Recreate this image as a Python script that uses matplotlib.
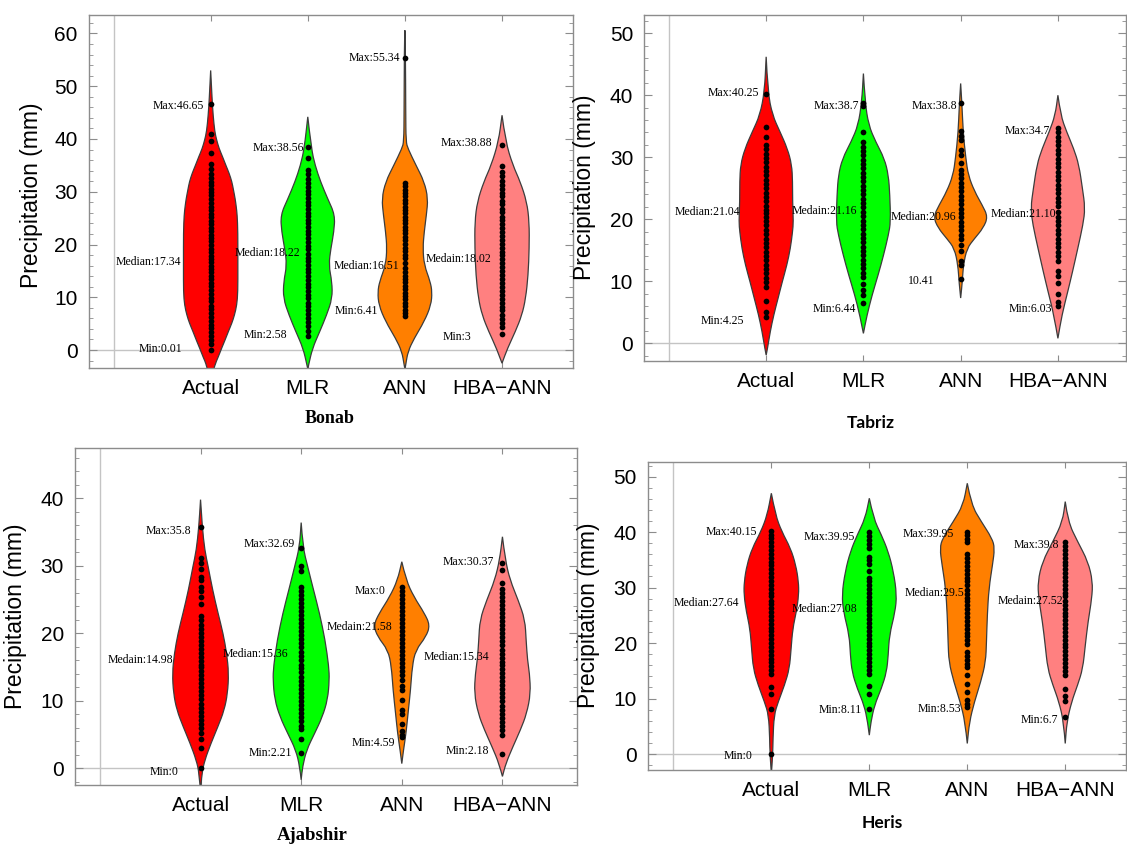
import matplotlib.pyplot as plt
from matplotlib.ticker import MultipleLocator
from matplotlib.path import Path
from matplotlib.patches import PathPatch

plt.rcParams["font.family"] = ["Liberation Sans", "DejaVu Sans"]

categories = ["Actual", "MLR", "ANN", "HBA\u2212ANN"]
colors = ["#ff0000", "#00ff00", "#ff7f00", "#ff8080"]

# ---------------- Bonab ----------------
bonab_dots = [
    [46.65, 41.0, 39.6, 37.4, 35.2, 34.4, 33.4, 32.6, 31.9, 31.2, 30.6, 30.0, 29.3, 28.6, 27.9, 27.1,
     26.5, 25.8, 25.2, 24.5, 23.9, 23.1, 22.5, 21.8, 21.2, 20.6, 19.9, 19.2, 18.6, 17.9, 17.34, 16.7,
     16.0, 15.4, 14.7, 14.0, 13.4, 12.7, 12.1, 11.3, 10.6, 9.9, 9.2, 8.4, 7.7, 7.0, 6.3, 5.5, 4.8,
     4.1, 3.4, 2.6, 1.9, 1.1, 0.01],
    [38.56, 36.4, 34.1, 33.3, 32.5, 31.7, 30.9, 30.2, 29.5, 28.8, 28.1, 27.4, 26.7, 26.0, 25.4, 24.7,
     24.0, 23.3, 22.6, 21.9, 21.2, 20.5, 19.8, 19.1, 18.22, 17.5, 16.8, 16.1, 15.4, 14.7, 14.0, 13.3,
     12.6, 11.9, 11.2, 10.5, 9.8, 9.0, 8.3, 7.6, 6.9, 6.1, 5.3, 4.5, 3.6, 2.58],
    [55.34, 31.6, 31.0, 30.4, 29.7, 29.1, 28.5, 27.8, 27.2, 26.6, 25.9, 25.3, 24.6, 24.0, 23.4, 22.7,
     22.1, 21.4, 20.8, 20.1, 19.4, 18.8, 18.1, 17.4, 16.51, 15.6, 14.8, 14.1, 13.5, 12.8, 12.2, 11.5,
     10.9, 10.2, 9.6, 8.9, 8.3, 7.6, 7.0, 6.41],
    [38.88, 34.8, 33.8, 32.9, 32.1, 31.3, 30.6, 29.8, 29.1, 28.3, 27.6, 26.8, 26.1, 25.3, 24.6, 23.8,
     23.1, 22.3, 21.6, 20.8, 20.1, 19.3, 18.6, 18.02, 17.2, 16.5, 15.7, 15.0, 14.2, 13.5, 12.7, 12.0,
     11.2, 10.5, 9.7, 9.0, 8.2, 7.5, 6.7, 5.9, 5.1, 4.3, 3.0],
]
bonab_prof_y = [
    [-6, -2.85, -1.3, 0.3, 1.9, 3.5, 5.1, 6.6, 8.5, 11.0, 16, 22.4, 25.6, 27.2, 28.7, 30.3, 31.9,
     33.5, 35.0, 36.6, 38.2, 39.8, 41.4, 44.5, 47.7, 53.0],
    [-3.6, -2.85, 0.3, 3.5, 6.6, 9.8, 12.9, 16.1, 19.3, 22.4, 25.6, 28.7, 31.9, 35.0, 38.2, 44.2],
    [-3.6, -2.8, -0.3, 2.2, 5.4, 8.5, 11.0, 13.0, 16.1, 19.3, 22.4, 25.6, 28.7, 31.9, 35.0, 38.2,
     39.5, 45.0, 57.2, 60.6],
    [-2.5, 0.3, 3.5, 6.6, 9.8, 14.2, 19.3, 24.3, 28.1, 31.9, 35.0, 39.5, 44.5],
]
bonab_prof_w = [
    [0, 0.15, 0.28, 0.4, 0.53, 0.65, 0.78, 0.875, 0.96, 1.0, 1.0, 1.0, 0.975, 0.94, 0.9, 0.84, 0.78,
     0.68, 0.56, 0.44, 0.31, 0.22, 0.15, 0.09, 0.05, 0],
    [0, 0.03, 0.17, 0.44, 0.69, 0.9, 0.89, 0.77, 0.85, 0.96, 1.0, 0.73, 0.47, 0.27, 0.13, 0],
    [0, 0.03, 0.11, 0.34, 0.71, 0.96, 1.0, 0.93, 0.71, 0.66, 0.71, 0.79, 0.85, 0.71, 0.41, 0.11,
     0.04, 0.03, 0.02, 0],
    [0, 0.2, 0.49, 0.73, 0.87, 0.96, 1.0, 1.0, 0.91, 0.67, 0.4, 0.13, 0],
]
bonab_labels = ["Max:46.65", "Median:17.34", "Min:0.01",
                "Max:38.56", "Median:18.22", "Min:2.58",
                "Max:55.34", "Median:16.51", "Min:6.41",
                "Max:38.88", "Medain:18.02", "Min:3"]
bonab_label_pos = [(0.93, 46.2), (0.70, 16.6), (0.71, 0.2),
                   (1.96, 38.3), (1.92, 18.3), (1.79, 2.8),
                   (2.95, 55.4), (2.94, 16.0), (2.72, 7.4),
                   (3.90, 39.3), (3.89, 17.2), (3.68, 2.5)]

# ---------------- Tabriz ----------------
tabriz_dots = [
    [40.25, 34.8, 33.3, 32.0, 31.3, 30.6, 29.9, 29.2, 28.5, 27.8, 27.1, 26.4, 25.7, 25.0, 24.3, 23.6,
     22.9, 22.2, 21.5, 21.04, 20.4, 19.7, 19.0, 18.3, 17.6, 16.9, 16.2, 15.5, 14.8, 14.1, 13.4, 12.7,
     12.0, 11.3, 10.6, 9.9, 9.1, 6.8, 5.0, 4.25],
    [38.7, 38.2, 34.0, 32.4, 31.7, 31.0, 30.3, 29.6, 28.9, 28.2, 27.5, 26.8, 26.1, 25.4, 24.7, 24.0,
     23.3, 22.6, 21.9, 21.16, 20.5, 19.8, 19.1, 18.4, 17.7, 17.0, 16.3, 15.6, 14.9, 14.2, 13.5, 12.8,
     12.1, 11.4, 10.7, 9.6, 8.6, 7.8, 6.44],
    [38.8, 34.2, 33.5, 32.8, 31.2, 30.4, 29.0, 28.0, 27.3, 26.6, 25.9, 25.2, 24.5, 23.8, 23.1, 22.4,
     21.7, 20.96, 20.3, 19.6, 18.9, 18.2, 17.5, 16.8, 15.9, 14.9, 13.2, 12.6, 10.41],
    [34.7, 34.0, 33.3, 32.6, 31.9, 31.2, 30.5, 29.8, 29.1, 28.4, 27.7, 27.0, 26.3, 25.6, 24.9, 24.2,
     23.5, 22.8, 22.1, 21.10, 20.4, 19.7, 19.0, 18.3, 17.6, 16.9, 16.2, 15.5, 14.8, 14.1, 13.3, 11.6,
     10.8, 9.7, 7.9, 6.6, 6.03],
]
tabriz_prof_y = [
    [-1.9, -0.8, 1.9, 4.6, 7.3, 9.9, 12.6, 15.3, 18.0, 19.6, 22.9, 26.1, 28.8, 31.4, 34.1, 36.8, 40.6, 46.2],
    [1.6, 4.5, 7.8, 11.0, 14.2, 17.5, 19.6, 23.9, 27.1, 29.8, 32.5, 35.2, 39.0, 43.5],
    [7.3, 9.9, 12.6, 15.3, 16.9, 18.6, 20.4, 22.3, 24.5, 27.1, 29.8, 34.1, 38.4, 41.9],
    [0.8, 4.6, 8.3, 11.6, 15.3, 19.1, 21.8, 25.0, 28.8, 31.4, 34.1, 36.8, 40.0],
]
tabriz_prof_w = [
    [0, 0.05, 0.15, 0.28, 0.44, 0.59, 0.76, 0.89, 0.97, 1.0, 0.97, 0.97, 0.94, 0.78, 0.51, 0.23, 0.06, 0],
    [0, 0.13, 0.32, 0.54, 0.74, 0.92, 1.0, 0.97, 0.92, 0.77, 0.45, 0.19, 0.06, 0],
    [0, 0.06, 0.1, 0.23, 0.51, 0.83, 1.0, 0.79, 0.51, 0.28, 0.19, 0.09, 0.05, 0],
    [0, 0.15, 0.36, 0.54, 0.73, 0.92, 1.0, 0.9, 0.77, 0.58, 0.32, 0.1, 0],
]
tabriz_labels = ["Max:40.25", "Median:21.04", "Min:4.25",
                 "Max:38.7", "Medain:21.16", "Min:6.44",
                 "Max:38.8", "Median:20.96", "10.41",
                 "Max:34.7", "Median:21.10", "Min:6.03"]
tabriz_label_pos = [(0.93, 40.4), (0.73, 21.1), (0.77, 3.65),
                    (1.96, 38.2), (1.94, 21.4), (1.92, 5.5),
                    (2.96, 38.3), (2.95, 20.3), (2.73, 10.1),
                    (3.92, 34.2), (3.98, 20.8), (3.94, 5.5)]

# ---------------- Ajabshir ----------------
ajabshir_dots = [
    [35.8, 31.1, 30.4, 29.6, 28.4, 27.9, 26.9, 26.2, 25.4, 24.4, 22.5, 21.9, 21.3, 20.7, 20.1, 19.5,
     18.9, 18.3, 17.7, 17.1, 16.5, 15.9, 15.3, 14.98, 14.4, 13.8, 13.2, 12.6, 12.0, 11.4, 10.8, 10.2,
     9.6, 9.0, 8.4, 7.8, 7.2, 6.6, 5.9, 5.2, 4.4, 3.0, 0.0],
    [32.69, 29.9, 29.2, 26.9, 26.3, 25.7, 25.1, 24.5, 23.9, 23.3, 22.7, 22.1, 21.5, 20.9, 20.3, 19.7,
     19.1, 18.5, 17.9, 17.3, 16.7, 16.1, 15.36, 14.8, 14.2, 13.6, 13.0, 12.4, 11.8, 11.2, 10.6, 10.0,
     9.4, 8.8, 8.2, 7.6, 7.0, 6.2, 5.8, 4.4, 2.21],
    [26.9, 26.3, 25.7, 25.1, 24.5, 23.9, 23.3, 22.7, 22.1, 21.58, 21.0, 20.4, 19.8, 19.2, 18.6, 18.0,
     17.4, 16.8, 16.2, 15.6, 15.0, 14.4, 13.8, 13.1, 12.2, 11.6, 10.1, 8.6, 8.0, 6.6, 5.6, 5.0, 4.59],
    [30.37, 29.4, 27.4, 26.6, 26.0, 25.4, 24.8, 24.2, 23.6, 23.0, 22.4, 21.8, 21.2, 20.6, 20.0, 19.4,
     18.8, 18.2, 17.6, 17.0, 16.4, 15.8, 15.34, 14.7, 14.1, 13.5, 12.9, 12.3, 11.7, 11.1, 10.5, 9.9,
     9.3, 8.7, 8.1, 7.5, 6.9, 6.3, 5.7, 5.0, 2.18],
]
ajabshir_prof_y = [
    [-3.5, -0.7, 1.2, 3.7, 6.2, 8.6, 11.1, 14.1, 17.0, 20.0, 23.0, 26.4, 29.9, 32.3, 35.8, 39.8],
    [-1.7, 0.25, 2.7, 5.2, 7.6, 10.2, 13.1, 15.1, 19.0, 23.0, 26.4, 29.9, 32.8, 36.4],
    [0.7, 2.7, 5.2, 8.1, 11.6, 15.1, 17.5, 19.5, 21.2, 23.0, 25.4, 27.9, 30.6],
    [-1.2, 0.7, 3.2, 5.7, 8.1, 11.1, 14.1, 16.0, 19.0, 22.0, 24.9, 27.9, 30.9, 34.3],
]
ajabshir_prof_w = [
    [0, 0.05, 0.15, 0.37, 0.62, 0.84, 0.96, 1.0, 0.93, 0.8, 0.62, 0.43, 0.27, 0.15, 0.06, 0],
    [0, 0.05, 0.19, 0.48, 0.75, 0.94, 1.0, 0.98, 0.85, 0.65, 0.44, 0.23, 0.06, 0],
    [0, 0.06, 0.15, 0.22, 0.31, 0.37, 0.49, 0.86, 1.0, 0.8, 0.43, 0.15, 0],
    [0, 0.12, 0.37, 0.64, 0.86, 1.0, 0.96, 0.89, 0.84, 0.8, 0.56, 0.27, 0.1, 0],
]
ajabshir_labels = ["Max:35.8", "Medain:14.98", "Min:0",
                   "Max:32.69", "Median:15.36", "Min:2.21",
                   "Max:0", "Medain:21.58", "Min:4.59",
                   "Max:30.37", "Median:15.34", "Min:2.18"]
ajabshir_label_pos = [(0.91, 35.2), (0.73, 16.05), (0.78, -0.5),
                      (1.94, 33.3), (1.87, 17.0), (1.91, 2.2),
                      (2.84, 26.3), (2.91, 20.9), (2.93, 3.8),
                      (3.92, 30.5), (3.87, 16.5), (3.87, 2.6)]

# ---------------- Heris ----------------
heris_dots = [
    [40.15, 39.5, 38.9, 38.2, 37.5, 36.8, 36.1, 35.4, 34.7, 34.0, 33.3, 32.6, 31.9, 31.2, 30.5, 29.8,
     29.1, 28.4, 27.64, 27.0, 26.3, 25.6, 24.9, 24.2, 23.5, 22.8, 22.1, 21.4, 20.7, 20.0, 19.3, 18.6,
     17.9, 17.2, 16.5, 15.8, 15.1, 14.4, 12.1, 10.8, 8.2, 0.0],
    [39.95, 39.3, 38.6, 37.9, 37.2, 35.6, 34.9, 34.2, 33.0, 31.8, 31.1, 30.4, 29.7, 29.0, 28.3, 27.6,
     27.08, 26.4, 25.7, 25.0, 24.3, 23.6, 22.9, 22.2, 21.5, 20.8, 20.1, 19.4, 18.7, 18.0, 17.3, 16.6,
     15.9, 15.2, 14.5, 12.3, 10.9, 8.11],
    [39.95, 39.4, 38.8, 38.2, 36.0, 35.3, 34.6, 33.9, 33.2, 32.5, 31.8, 31.1, 30.4, 29.5, 28.9, 28.2,
     27.5, 26.8, 26.1, 25.4, 24.7, 24.0, 23.3, 22.6, 21.9, 21.2, 20.5, 19.8, 18.4, 17.7, 17.0, 16.3,
     15.6, 14.3, 12.6, 11.2, 9.8, 9.0, 8.53],
    [38.2, 37.5, 36.8, 36.1, 35.4, 34.7, 34.0, 33.3, 32.6, 31.9, 31.2, 30.5, 29.8, 29.1, 28.4, 27.52,
     26.9, 26.2, 25.5, 24.8, 24.1, 23.4, 22.7, 22.0, 21.3, 20.6, 19.9, 19.2, 18.5, 17.8, 17.1, 16.4,
     15.7, 15.0, 14.3, 11.7, 10.5, 9.5, 6.7],
]
heris_prof_y = [
    [-3.5, -0.2, 2.8, 7.0, 9.4, 12.4, 15.4, 19.0, 22.6, 25.6, 28.7, 31.1, 34.1, 37.1, 40.1, 43.1, 47.0],
    [3.4, 5.8, 8.8, 11.8, 14.8, 17.8, 21.4, 25.6, 28.7, 32.9, 36.5, 39.5, 42.5, 46.1],
    [1.9, 5.8, 9.4, 13.0, 16.6, 20.2, 25.1, 29.9, 34.1, 37.1, 38.9, 41.9, 44.9, 48.8],
    [1.9, 5.8, 9.4, 12.4, 15.4, 19.6, 23.8, 28.1, 31.1, 34.7, 38.3, 41.9, 45.5],
]
heris_prof_w = [
    [0, 0.05, 0.06, 0.1, 0.25, 0.48, 0.66, 0.72, 0.78, 0.91, 1.0, 0.99, 0.89, 0.7, 0.38, 0.15, 0],
    [0, 0.06, 0.19, 0.44, 0.63, 0.69, 0.73, 0.94, 1.0, 0.88, 0.69, 0.44, 0.15, 0],
    [0, 0.08, 0.26, 0.49, 0.67, 0.7, 0.73, 0.79, 0.92, 1.0, 0.9, 0.51, 0.15, 0],
    [0, 0.06, 0.23, 0.45, 0.64, 0.73, 0.83, 0.97, 1.0, 0.83, 0.45, 0.1, 0],
]
heris_labels = ["Max:40.15", "Median:27.64", "Min:0",
                "Max:39.95", "Median:27.08", "Min:8.11",
                "Max:39.95", "Median:29.5", "Min:8.53",
                "Max:39.8", "Medain:27.52", "Min:6.7"]
heris_label_pos = [(0.855, 40.1), (0.67, 27.3), (0.81, -0.4),
                   (1.85, 39.2), (1.88, 26.2), (1.92, 8.0),
                   (2.86, 39.6), (2.97, 29.1), (2.94, 8.1),
                   (3.94, 37.7), (3.98, 27.6), (3.93, 6.2)]

fig = plt.figure(figsize=(11.27, 8.44), dpi=100)
frame_col = "#8c8c8c"
half_width = 0.28


def smooth_side(pts, first):
    # quadratic bezier through segment midpoints, ends kept sharp (violin tips)
    verts, codes = [], []
    if first:
        verts.append(pts[0])
        codes.append(Path.MOVETO)
    mid = lambda a, b: ((a[0] + b[0]) / 2, (a[1] + b[1]) / 2)
    verts.append(mid(pts[0], pts[1]))
    codes.append(Path.LINETO)
    for i in range(1, len(pts) - 2):
        verts += [pts[i], mid(pts[i], pts[i + 1])]
        codes += [Path.CURVE3, Path.CURVE3]
    verts += [pts[-2], pts[-1]]
    codes += [Path.CURVE3, Path.CURVE3]
    return verts, codes


def violin_body(ax, pos, ys, ws, color):
    right = [(pos + half_width * w, y) for y, w in zip(ys, ws)]
    left = [(pos - half_width * w, y) for y, w in zip(ys[::-1], ws[::-1])]
    v1, c1 = smooth_side(right, True)
    v2, c2 = smooth_side(left, False)
    verts = v1 + v2 + [(0, 0)]
    codes = c1 + c2 + [Path.CLOSEPOLY]
    ax.add_patch(PathPatch(Path(verts, codes), facecolor=color, edgecolor="#3c3c3c",
                           linewidth=0.9, zorder=2))


def panel(rect, dots, prof_y, prof_w, labels, label_pos, xlim, ylim, ytop,
          title, title_xy, title_family, title_size, ylabel_xy):
    ax = fig.add_axes(rect)
    for i, (yy, ww) in enumerate(zip(prof_y, prof_w)):
        violin_body(ax, i + 1, yy, ww, colors[i])
    for i, d in enumerate(dots):
        ax.scatter([i + 1] * len(d), d, s=17, color="black", linewidths=0, zorder=3)

    ax.axhline(0, color="#c4c4c4", lw=1, zorder=1)
    ax.axvline(0, color="#c4c4c4", lw=1, zorder=1)

    for (x, y), t in zip(label_pos, labels):
        ax.text(x, y, t, ha="right", va="center", fontsize=8.5,
                family="Liberation Serif", zorder=4)

    ax.set_xlim(*xlim)
    ax.set_ylim(*ylim)
    ax.set_xticks([1, 2, 3, 4], categories)
    ax.set_yticks(range(0, ytop + 1, 10))
    ax.yaxis.set_minor_locator(MultipleLocator(2))
    ax.tick_params(axis="x", direction="in", length=4, color=frame_col,
                   top=True, bottom=True, labelsize=15, pad=8)
    ax.tick_params(axis="y", which="major", direction="in", length=6,
                   color=frame_col, left=True, right=True, labelsize=15, pad=8)
    ax.tick_params(axis="y", which="minor", direction="in", length=3,
                   color=frame_col, left=True, right=True)
    for sp in ax.spines.values():
        sp.set_color(frame_col)
        sp.set_linewidth(1)
    ax.set_ylabel("Precipitation (mm)", fontsize=16.5)
    ax.yaxis.set_label_coords(*ylabel_xy)
    fig.text(title_xy[0] / 1127, 1 - title_xy[1] / 844, title, ha="center",
             va="center", fontsize=title_size, fontweight="bold", family=title_family)
    return ax


panel([0.0786, 0.5636, 0.4302, 0.4186], bonab_dots, bonab_prof_y, bonab_prof_w,
      bonab_labels, bonab_label_pos, (-0.257, 4.735), (-3.47, 63.5), 60,
      "Bonab", (330, 418), "Liberation Serif", 13, (-0.094, 0.49))
panel([0.5717, 0.5723, 0.4274, 0.41], tabriz_dots, tabriz_prof_y, tabriz_prof_w,
      tabriz_labels, tabriz_label_pos, (-0.253, 4.70), (-2.85, 52.95), 50,
      "Tabriz", (871, 423), "Lato", 12.5, (-0.10, 0.503))
panel([0.0665, 0.0699, 0.4454, 0.3989], ajabshir_dots, ajabshir_prof_y, ajabshir_prof_w,
      ajabshir_labels, ajabshir_label_pos, (-0.248, 4.74), (-2.47, 47.4), 40,
      "Ajabshir", (312, 835), "Liberation Serif", 13.5, (-0.096, 0.5))
panel([0.5749, 0.0877, 0.4242, 0.3653], heris_dots, heris_prof_y, heris_prof_w,
      heris_labels, heris_label_pos, (-0.26, 4.62), (-2.88, 52.7), 50,
      "Heris", (882, 823), "Lato", 12.5, (-0.10, 0.503))

fig.savefig("out.png", dpi=100)
